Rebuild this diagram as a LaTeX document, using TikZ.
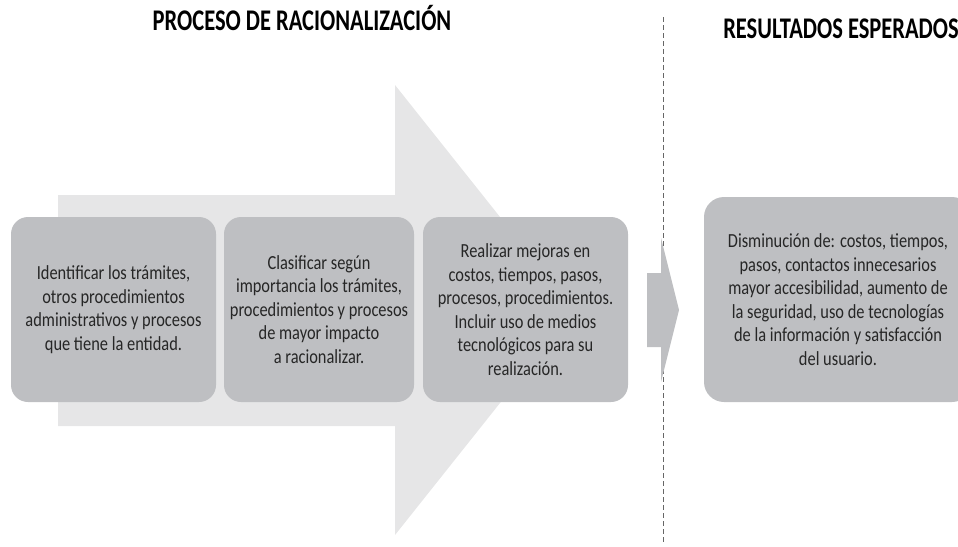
\documentclass[tikz,border=0pt]{standalone}
\usepackage{fontspec}
\setmainfont{Carlito}
\newfontfamily\bodyfont[FakeStretch=0.82]{Carlito}
\newfontfamily\titlefont[FakeStretch=0.75]{Carlito}
\definecolor{boxgray}{HTML}{BEBFC2}
\definecolor{arrowgray}{HTML}{E6E6E7}
\definecolor{txt}{HTML}{262626}
\tikzset{
  stepbox/.style={rectangle, rounded corners=17pt, fill=boxgray, draw=none,
    text=txt, align=center, inner sep=0pt,
    font=\bodyfont\fontsize{20}{23.5}\selectfont},
  titletext/.style={anchor=base, text=black, font=\titlefont\bfseries\fontsize{30}{32}\selectfont}
}
\begin{document}
\begin{tikzpicture}[x=1pt,y=-1pt]
\useasboundingbox (0,0) rectangle (958,546);
% big light arrow
\fill[arrowgray] (58,195) -- (395,195) -- (395,85) -- (574,310) -- (395,535) -- (395,426) -- (58,426) -- cycle;
% titles
\node[titletext] (t1) at (302,30) {PROCESO DE RACIONALIZACIÓN};
\node[titletext] (t2) at (841,38) {RESULTADOS ESPERADOS};
% step boxes
\node[stepbox, minimum width=205pt, minimum height=185pt] (b1) at (113.5,309.5)
  {Identificar los trámites,\\otros procedimientos\\administrativos y procesos\\que tiene la entidad.};
\node[stepbox, minimum width=190pt, minimum height=185pt] (b2) at (319,309.5)
  {Clasificar según\\importancia los trámites,\\procedimientos y procesos\\de mayor impacto\\a racionalizar.};
\node[stepbox, minimum width=205pt, minimum height=185pt] (b3) at (525.5,309.5)
  {Realizar mejoras en\\costos, tiempos, pasos,\\procesos, procedimientos.\\Incluir uso de medios\\tecnológicos para su\\realización.};
\node[stepbox, rounded corners=20pt, minimum width=268pt, minimum height=205pt] (b4) at (838,299.5)
  {Disminución de: costos, tiempos,\\pasos, contactos innecesarios\\mayor accesibilidad, aumento de\\la seguridad, uso de tecnologías\\de la información y satisfacción\\del usuario.};
% dashed divider
\coordinate (dtop) at (663,17);
\coordinate (dbot) at (663,542);
\draw[gray!80!black, line width=0.8pt, dash pattern=on 5pt off 3pt] (dtop) -- (dbot);
% small arrow
\fill[boxgray] (647,273) -- (661,273) -- (661,238) -- (679,310) -- (661,382) -- (661,347) -- (647,347) -- cycle;
\end{tikzpicture}
\end{document}
